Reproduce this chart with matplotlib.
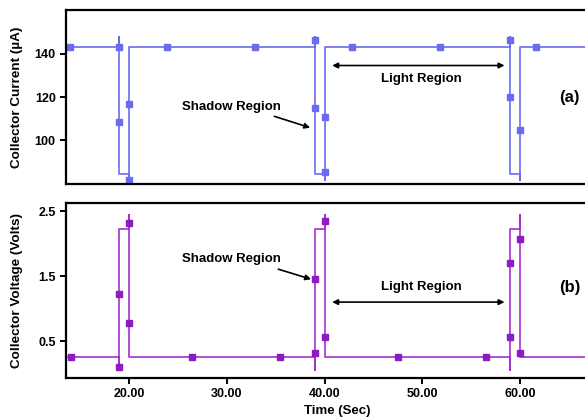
import numpy as np
import matplotlib
matplotlib.use('Agg')
import matplotlib.pyplot as plt

plt.rcParams['font.family'] = ['Liberation Sans', 'DejaVu Sans']
plt.rcParams['font.weight'] = 'bold'

# ==============================================================================
# Datos
# ==============================================================================
# (a) corriente de colector: trazo de la linea y puntos medidos
cur_line_t = [13.56, 19.0, 19.0, 19.0, 20.0, 20.0, 20.0,
              39.0, 39.0, 39.0, 40.0, 40.0, 40.0,
              59.0, 59.0, 59.0, 60.0, 60.0, 60.0, 66.7]
cur_line_i = [143.2, 143.2, 147.7, 84.4, 84.4, 81.6, 143.2,
              143.2, 147.7, 84.4, 84.4, 81.6, 143.2,
              143.2, 147.7, 84.4, 84.4, 81.6, 143.2, 143.2]
cur_pts_t = [14.0, 19.0, 19.0, 20.0, 20.0, 23.9, 32.9, 39.0, 39.0, 40.0, 40.0,
             42.8, 51.8, 59.0, 59.0, 60.0, 61.6]
cur_pts_i = [143.2, 143.2, 108.3, 116.7, 81.6, 143.2, 143.2, 146.4, 115.0,
             110.6, 85.3, 143.2, 143.2, 146.4, 120.2, 104.6, 143.2]

# (b) voltaje de colector
vol_line_t = [13.56, 19.0, 19.0, 19.0, 20.0, 20.0, 20.0,
              39.0, 39.0, 39.0, 40.0, 40.0, 40.0,
              59.0, 59.0, 59.0, 60.0, 60.0, 60.0, 66.7]
vol_line_v = [0.26, 0.26, 0.06, 2.23, 2.23, 2.45, 0.26,
              0.26, 0.06, 2.23, 2.23, 2.45, 0.26,
              0.26, 0.06, 2.23, 2.23, 2.45, 0.26, 0.26]
vol_pts_t = [14.1, 19.0, 19.0, 20.0, 20.0, 26.4, 35.4, 39.0, 39.0, 40.0, 40.0,
             47.5, 56.5, 59.0, 59.0, 60.0, 60.0]
vol_pts_v = [0.26, 0.10, 1.23, 2.32, 0.78, 0.26, 0.26, 0.32, 1.45, 2.35, 0.56,
             0.26, 0.26, 0.56, 1.70, 2.08, 0.32]

xticks = [20, 30, 40, 50, 60]

c_blue = '#6b6bf0'
c_purp = '#a62fd0'
c_purp_m = '#8c1cc0'

# ==============================================================================
# Figura
# ==============================================================================
fig = plt.figure(figsize=(5.85, 4.2), dpi=100)
ax1 = fig.add_axes([0.113, 0.562, 0.887, 0.414])
ax2 = fig.add_axes([0.113, 0.100, 0.887, 0.417])

for ax in (ax1, ax2):
    for s in ('left', 'bottom', 'top'):
        ax.spines[s].set_linewidth(1.6)
    ax.spines['right'].set_visible(False)
    ax.set_xlim(13.56, 66.65)
    ax.set_xticks(xticks)
    ax.tick_params(width=1.4, length=4, labelsize=9)
    for lab in ax.get_yticklabels():
        lab.set_fontweight('bold')

# ---------------- (a) ----------------
ax1.plot(cur_line_t, cur_line_i, color=c_blue, lw=1.2)
ax1.plot(cur_pts_t, cur_pts_i, 's', color=c_blue, ms=3.8)
ax1.set_ylim(80, 160)
ax1.set_yticks([100, 120, 140])
ax1.tick_params(axis='x', bottom=False, labelbottom=False)
ax1.set_ylabel('Collector Current (\u00b5A)', fontsize=9.7, fontweight='bold')
ax1.yaxis.set_label_coords(-0.084, 0.5)

ax1.text(30.5, 115.6, 'Shadow Region', ha='center', va='center',
         fontsize=9.5, fontweight='bold')
ax1.annotate('', xy=(38.8, 105.5), xytext=(34.6, 111.5),
             arrowprops=dict(arrowstyle='-|>', color='black', lw=1.2,
                             mutation_scale=8))
ax1.annotate('', xy=(40.5, 134.5), xytext=(58.7, 134.5),
             arrowprops=dict(arrowstyle='<|-|>', color='black', lw=1.2,
                             mutation_scale=8))
ax1.text(49.9, 128.5, 'Light Region', ha='center', va='center',
         fontsize=9.5, fontweight='bold')
ax1.text(65.1, 119.8, '(a)', ha='center', va='center',
         fontsize=12, fontweight='bold')

# ---------------- (b) ----------------
ax2.plot(vol_line_t, vol_line_v, color=c_purp, lw=1.2)
ax2.plot(vol_pts_t, vol_pts_v, 's', color=c_purp_m, ms=3.8)
ax2.set_ylim(-0.07, 2.63)
ax2.set_yticks([0.5, 1.5, 2.5])
ax2.set_xticklabels(['%.2f' % t for t in xticks], fontweight='bold')
ax2.set_ylabel('Collector Voltage (Volts)', fontsize=9.7, fontweight='bold')
ax2.yaxis.set_label_coords(-0.084, 0.5)
ax2.set_xlabel('Time (Sec)', fontsize=9.5, fontweight='bold')
ax2.xaxis.set_label_coords(0.522, -0.155)

ax2.text(30.5, 1.76, 'Shadow Region', ha='center', va='center',
         fontsize=9.5, fontweight='bold')
ax2.annotate('', xy=(38.9, 1.44), xytext=(35.0, 1.62),
             arrowprops=dict(arrowstyle='-|>', color='black', lw=1.2,
                             mutation_scale=8))
ax2.annotate('', xy=(40.5, 1.10), xytext=(58.7, 1.10),
             arrowprops=dict(arrowstyle='<|-|>', color='black', lw=1.2,
                             mutation_scale=8))
ax2.text(49.9, 1.33, 'Light Region', ha='center', va='center',
         fontsize=9.5, fontweight='bold')
ax2.text(65.1, 1.33, '(b)', ha='center', va='center',
         fontsize=12, fontweight='bold')

plt.savefig('out.png', dpi=100)
